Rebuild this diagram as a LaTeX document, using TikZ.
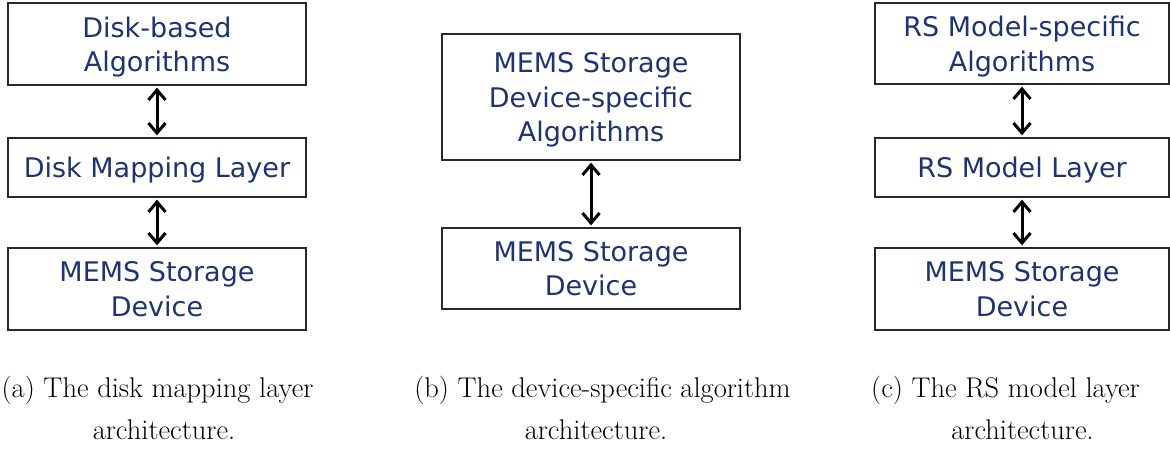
\documentclass[tikz,border=0pt]{standalone}
\usepackage{fontspec}
\newfontfamily\boxfont{DejaVu Sans}
\usetikzlibrary{arrows.meta}
\definecolor{navy}{RGB}{30,52,112}
\definecolor{edge}{RGB}{40,40,40}
\tikzset{
  layerbox/.style={draw=edge, line width=1.3pt, minimum width=298pt, inner sep=0pt,
    text depth=0pt, align=center, text=navy, font=\boxfont\fontsize{27}{34.5}\selectfont},
  link/.style={line width=3pt, {Straight Barb[length=10pt,width=17pt,line width=3pt]}-{Straight Barb[length=10pt,width=17pt,line width=3pt]},
    shorten <=2pt, shorten >=2pt},
  capline/.style={anchor=base, inner sep=0pt, font=\fontsize{28.5}{32}\selectfont}
}
\begin{document}
\begin{tikzpicture}[x=1pt,y=-1pt]
\useasboundingbox (0,0) rectangle (1170,454);
% panel (a)
\node[layerbox, minimum height=82pt] (a1) at (157,44) {Disk-based\\Algorithms};
\node[layerbox, minimum height=59pt] (a2) at (157,167.5) {Disk Mapping Layer};
\node[layerbox, minimum height=82pt] (a3) at (157,289) {MEMS Storage\\Device};
\draw[link] (a1) -- (a2);
\draw[link] (a2) -- (a3);
% panel (b)
\node[layerbox, minimum height=126pt] (b1) at (591,97) {MEMS Storage\\Device-specific\\Algorithms};
\node[layerbox, minimum height=81pt] (b2) at (591,268.5) {MEMS Storage\\Device};
\draw[link] (b1) -- (b2);
% panel (c)
\node[layerbox, minimum height=81pt, minimum width=294pt] (c1) at (1022,43.5) {RS Model-specific\\Algorithms};
\node[layerbox, minimum height=59pt, minimum width=294pt] (c2) at (1022,167.5) {RS Model Layer};
\node[layerbox, minimum height=82pt, minimum width=294pt] (c3) at (1022,289) {MEMS Storage\\Device};
\draw[link] (c1) -- (c2);
\draw[link] (c2) -- (c3);
% captions
\node[capline] (capa1) at (157.5,397) {(a) The disk mapping layer};
\node[capline] (capa2) at (164,439) {architecture.};
\node[capline] (capb1) at (602.5,397) {(b) The device-specific algorithm};
\node[capline] (capb2) at (596,439) {architecture.};
\node[capline] (capc1) at (1005.5,397) {(c) The RS model layer};
\node[capline] (capc2) at (1022.5,439) {architecture.};
\end{tikzpicture}
\end{document}
